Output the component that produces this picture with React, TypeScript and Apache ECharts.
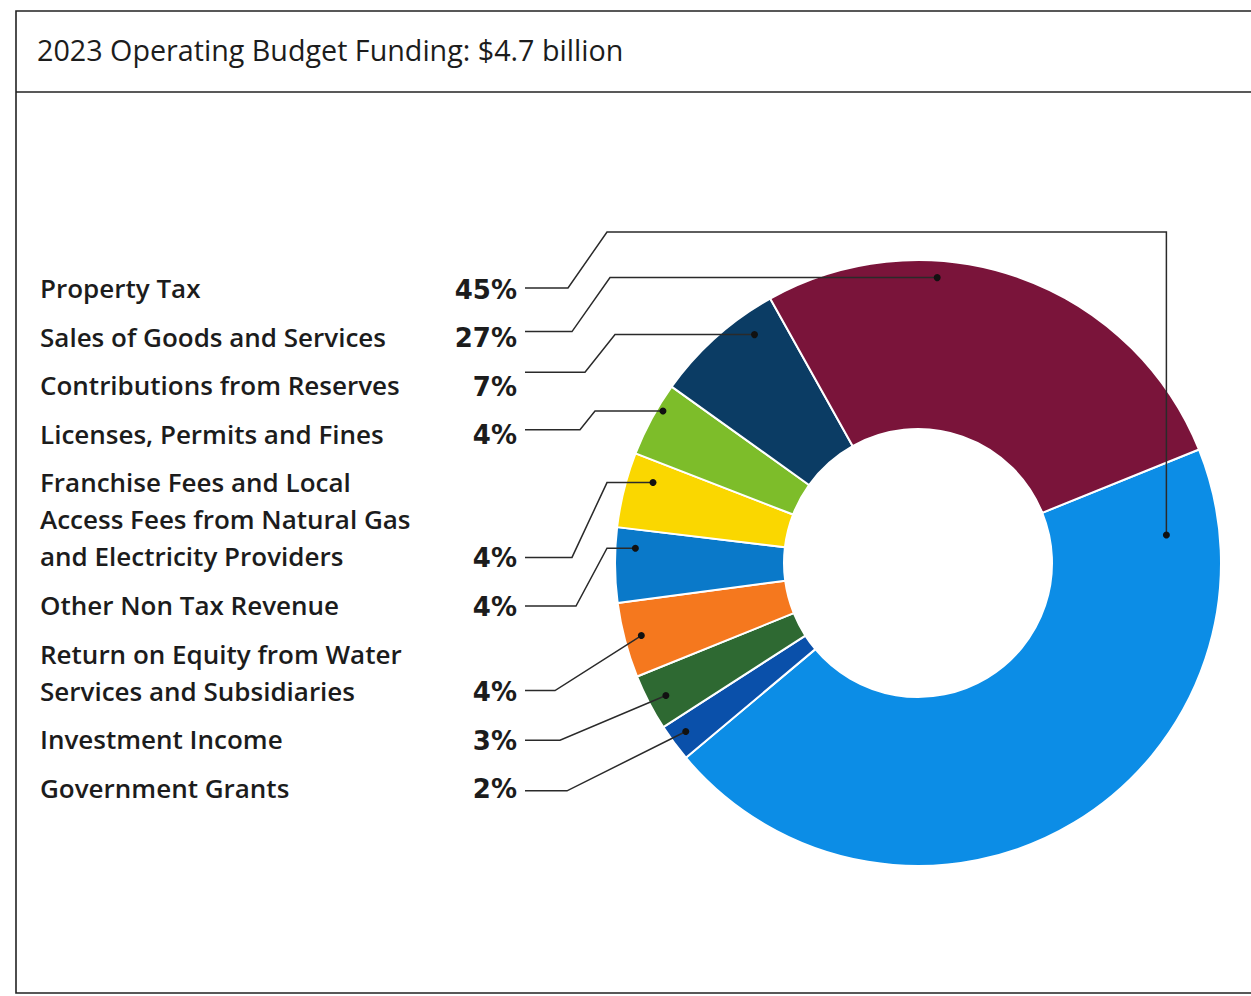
import { useEffect, useRef } from "react";
import * as echarts from "echarts";

// ---- data ----
const titleText = "2023 Operating Budget Funding: $4.7 billion";
const categories = [
  "Property Tax",
  "Sales of Goods and Services",
  "Contributions from Reserves",
  "Licenses, Permits and Fines",
  "Franchise Fees and Local Access Fees from Natural Gas and Electricity Providers",
  "Other Non Tax Revenue",
  "Return on Equity from Water Services and Subsidiaries",
  "Investment Income",
  "Government Grants",
];
const labelLines = [
  ["Property Tax"],
  ["Sales of Goods and Services"],
  ["Contributions from Reserves"],
  ["Licenses, Permits and Fines"],
  ["Franchise Fees and Local", "Access Fees from Natural Gas", "and Electricity Providers"],
  ["Other Non Tax Revenue"],
  ["Return on Equity from Water", "Services and Subsidiaries"],
  ["Investment Income"],
  ["Government Grants"],
];
const values = [45, 27, 7, 4, 4, 4, 4, 3, 2];
const percentLabels = ["45%", "27%", "7%", "4%", "4%", "4%", "4%", "3%", "2%"];
// clockwise order of slices, starting from Property Tax
const sliceOrder = [0, 8, 7, 6, 5, 4, 3, 2, 1];
const colors = [
  "#0c8de6",
  "#7a143a",
  "#0b3c64",
  "#7dbd2a",
  "#fad700",
  "#0a79c9",
  "#f5781e",
  "#2e6932",
  "#0a50aa",
];

// ---- layout / style ----
const W = 1251;
const H = 996;
const CX = 918;
const CY = 563;
const R_IN = 134;
const R_OUT = 303;
const START_COMPASS = 68; // degrees clockwise from 12 o'clock
const FONT = "'Open Sans', 'Noto Sans', sans-serif";
const PCT_FONT = "'DejaVu Sans', 'Open Sans', sans-serif";
const TEXT_COLOR = "#1c1c1c";
const LINE_COLOR = "#2a2a2a";
const FIRST_Y = 288;
const ITEM_GAP = 48.6;
const LINE_GAP = 37;
const LINE_START_X = 525;
const PCT_X = 517;
const NAME_X = 40;

// leader routing per category (style only)
const leaders: any[] = [
  { frac: 0.096, rFrac: 0.825, dy: 0, x1: 568, x2: 607, topY: 232 },
  { frac: 0.34, rFrac: 0.944, dy: -5, x1: 572, x2: 610 },
  { frac: 0.746, rFrac: 0.927, dy: -13, x1: 585, x2: 615 },
  { frac: 0.667, rFrac: 0.98, dy: -4, x1: 580, x2: 595 },
  { frac: 0.7, rFrac: 0.914, dy: 1, x1: 572, x2: 607 },
  { frac: 0.736, rFrac: 0.934, dy: 1, x1: 576, x2: 607 },
  { frac: 0.507, rFrac: 0.944, dy: 0, x1: 555 },
  { frac: 0.47, rFrac: 0.94, dy: 1, x1: 560 },
  { frac: 0.56, rFrac: 0.947, dy: 3, x1: 567 },
];

function polar(compassDeg: number, r: number): [number, number] {
  const a = (compassDeg * Math.PI) / 180;
  return [CX + r * Math.sin(a), CY - r * Math.cos(a)];
}

function buildOption() {
  const total = values.reduce((s, v) => s + v, 0);
  // slice angular ranges
  const ranges: Record<number, [number, number]> = {};
  let acc = START_COMPASS;
  sliceOrder.forEach((ci) => {
    const span = (values[ci] / total) * 360;
    ranges[ci] = [acc, acc + span];
    acc += span;
  });

  const graphics: any[] = [];
  // frame
  graphics.push({
    type: "rect",
    shape: { x: 16, y: 11, width: W - 16 + 5, height: 982 },
    style: { fill: "none", stroke: "#222", lineWidth: 1.6 },
    z: 1,
  });
  graphics.push({
    type: "line",
    shape: { x1: 16, y1: 92, x2: W, y2: 92 },
    style: { stroke: "#222", lineWidth: 1.6 },
    z: 1,
  });
  graphics.push({
    type: "text",
    x: 37,
    y: 49,
    style: {
      text: titleText,
      font: `28.7px ${FONT}`,
      fill: TEXT_COLOR,
      align: "left",
      verticalAlign: "middle",
    },
    z: 10,
  });

  let y = FIRST_Y;
  categories.forEach((_, ci) => {
    const lines = labelLines[ci];
    const firstY = y;
    const lastY = y + (lines.length - 1) * LINE_GAP;
    graphics.push({
      type: "text",
      x: NAME_X,
      y: firstY - LINE_GAP / 2,
      style: {
        text: lines.join("\n"),
        font: `600 26px ${FONT}`,
        fill: TEXT_COLOR,
        align: "left",
        verticalAlign: "top",
        lineHeight: LINE_GAP,
      },
      z: 10,
    });
    graphics.push({
      type: "text",
      x: PCT_X,
      y: lastY + 1.5,
      style: {
        text: percentLabels[ci],
        font: `bold 26px ${PCT_FONT}`,
        fill: TEXT_COLOR,
        align: "right",
        verticalAlign: "middle",
      },
      z: 10,
    });

    const L = leaders[ci];
    const [a0, a1] = ranges[ci];
    const [dx, dyy] = polar(a0 + L.frac * (a1 - a0), L.rFrac * R_OUT);
    const ly = lastY + L.dy;
    let pts: number[][];
    if (L.topY !== undefined) {
      pts = [
        [LINE_START_X, ly],
        [L.x1, ly],
        [L.x2, L.topY],
        [dx, L.topY],
        [dx, dyy],
      ];
    } else if (L.x2 !== undefined) {
      pts = [
        [LINE_START_X, ly],
        [L.x1, ly],
        [L.x2, dyy],
        [dx, dyy],
      ];
    } else {
      pts = [
        [LINE_START_X, ly],
        [L.x1, ly],
        [dx, dyy],
      ];
    }
    graphics.push({
      type: "polyline",
      shape: { points: pts },
      style: { stroke: LINE_COLOR, lineWidth: 1.5, fill: null },
      z: 20,
    });
    graphics.push({
      type: "circle",
      shape: { cx: dx, cy: dyy, r: 3.5 },
      style: { fill: "#111" },
      z: 21,
    });

    y = lastY + ITEM_GAP;
  });

  return {
    animation: false,
    backgroundColor: "#ffffff",
    graphic: { elements: graphics },
    series: [
      {
        type: "pie",
        center: [CX, CY],
        radius: [R_IN, R_OUT],
        startAngle: 90 - START_COMPASS,
        clockwise: true,
        silent: true,
        label: { show: false },
        labelLine: { show: false },
        itemStyle: { borderColor: "#ffffff", borderWidth: 2 },
        emphasis: { disabled: true },
        data: sliceOrder.map((ci) => ({
          name: categories[ci],
          value: values[ci],
          itemStyle: { color: colors[ci] },
        })),
      },
    ],
  };
}

export default function App() {
  const ref = useRef<HTMLDivElement>(null);
  useEffect(() => {
    if (!ref.current) return;
    const chart = echarts.init(ref.current, undefined, { renderer: "svg" });
    chart.setOption(buildOption() as any);
    return () => chart.dispose();
  }, []);
  return (
    <div
      ref={ref}
      style={{ position: "fixed", left: 0, top: 0, width: W, height: H, background: "#fff" }}
    />
  );
}
